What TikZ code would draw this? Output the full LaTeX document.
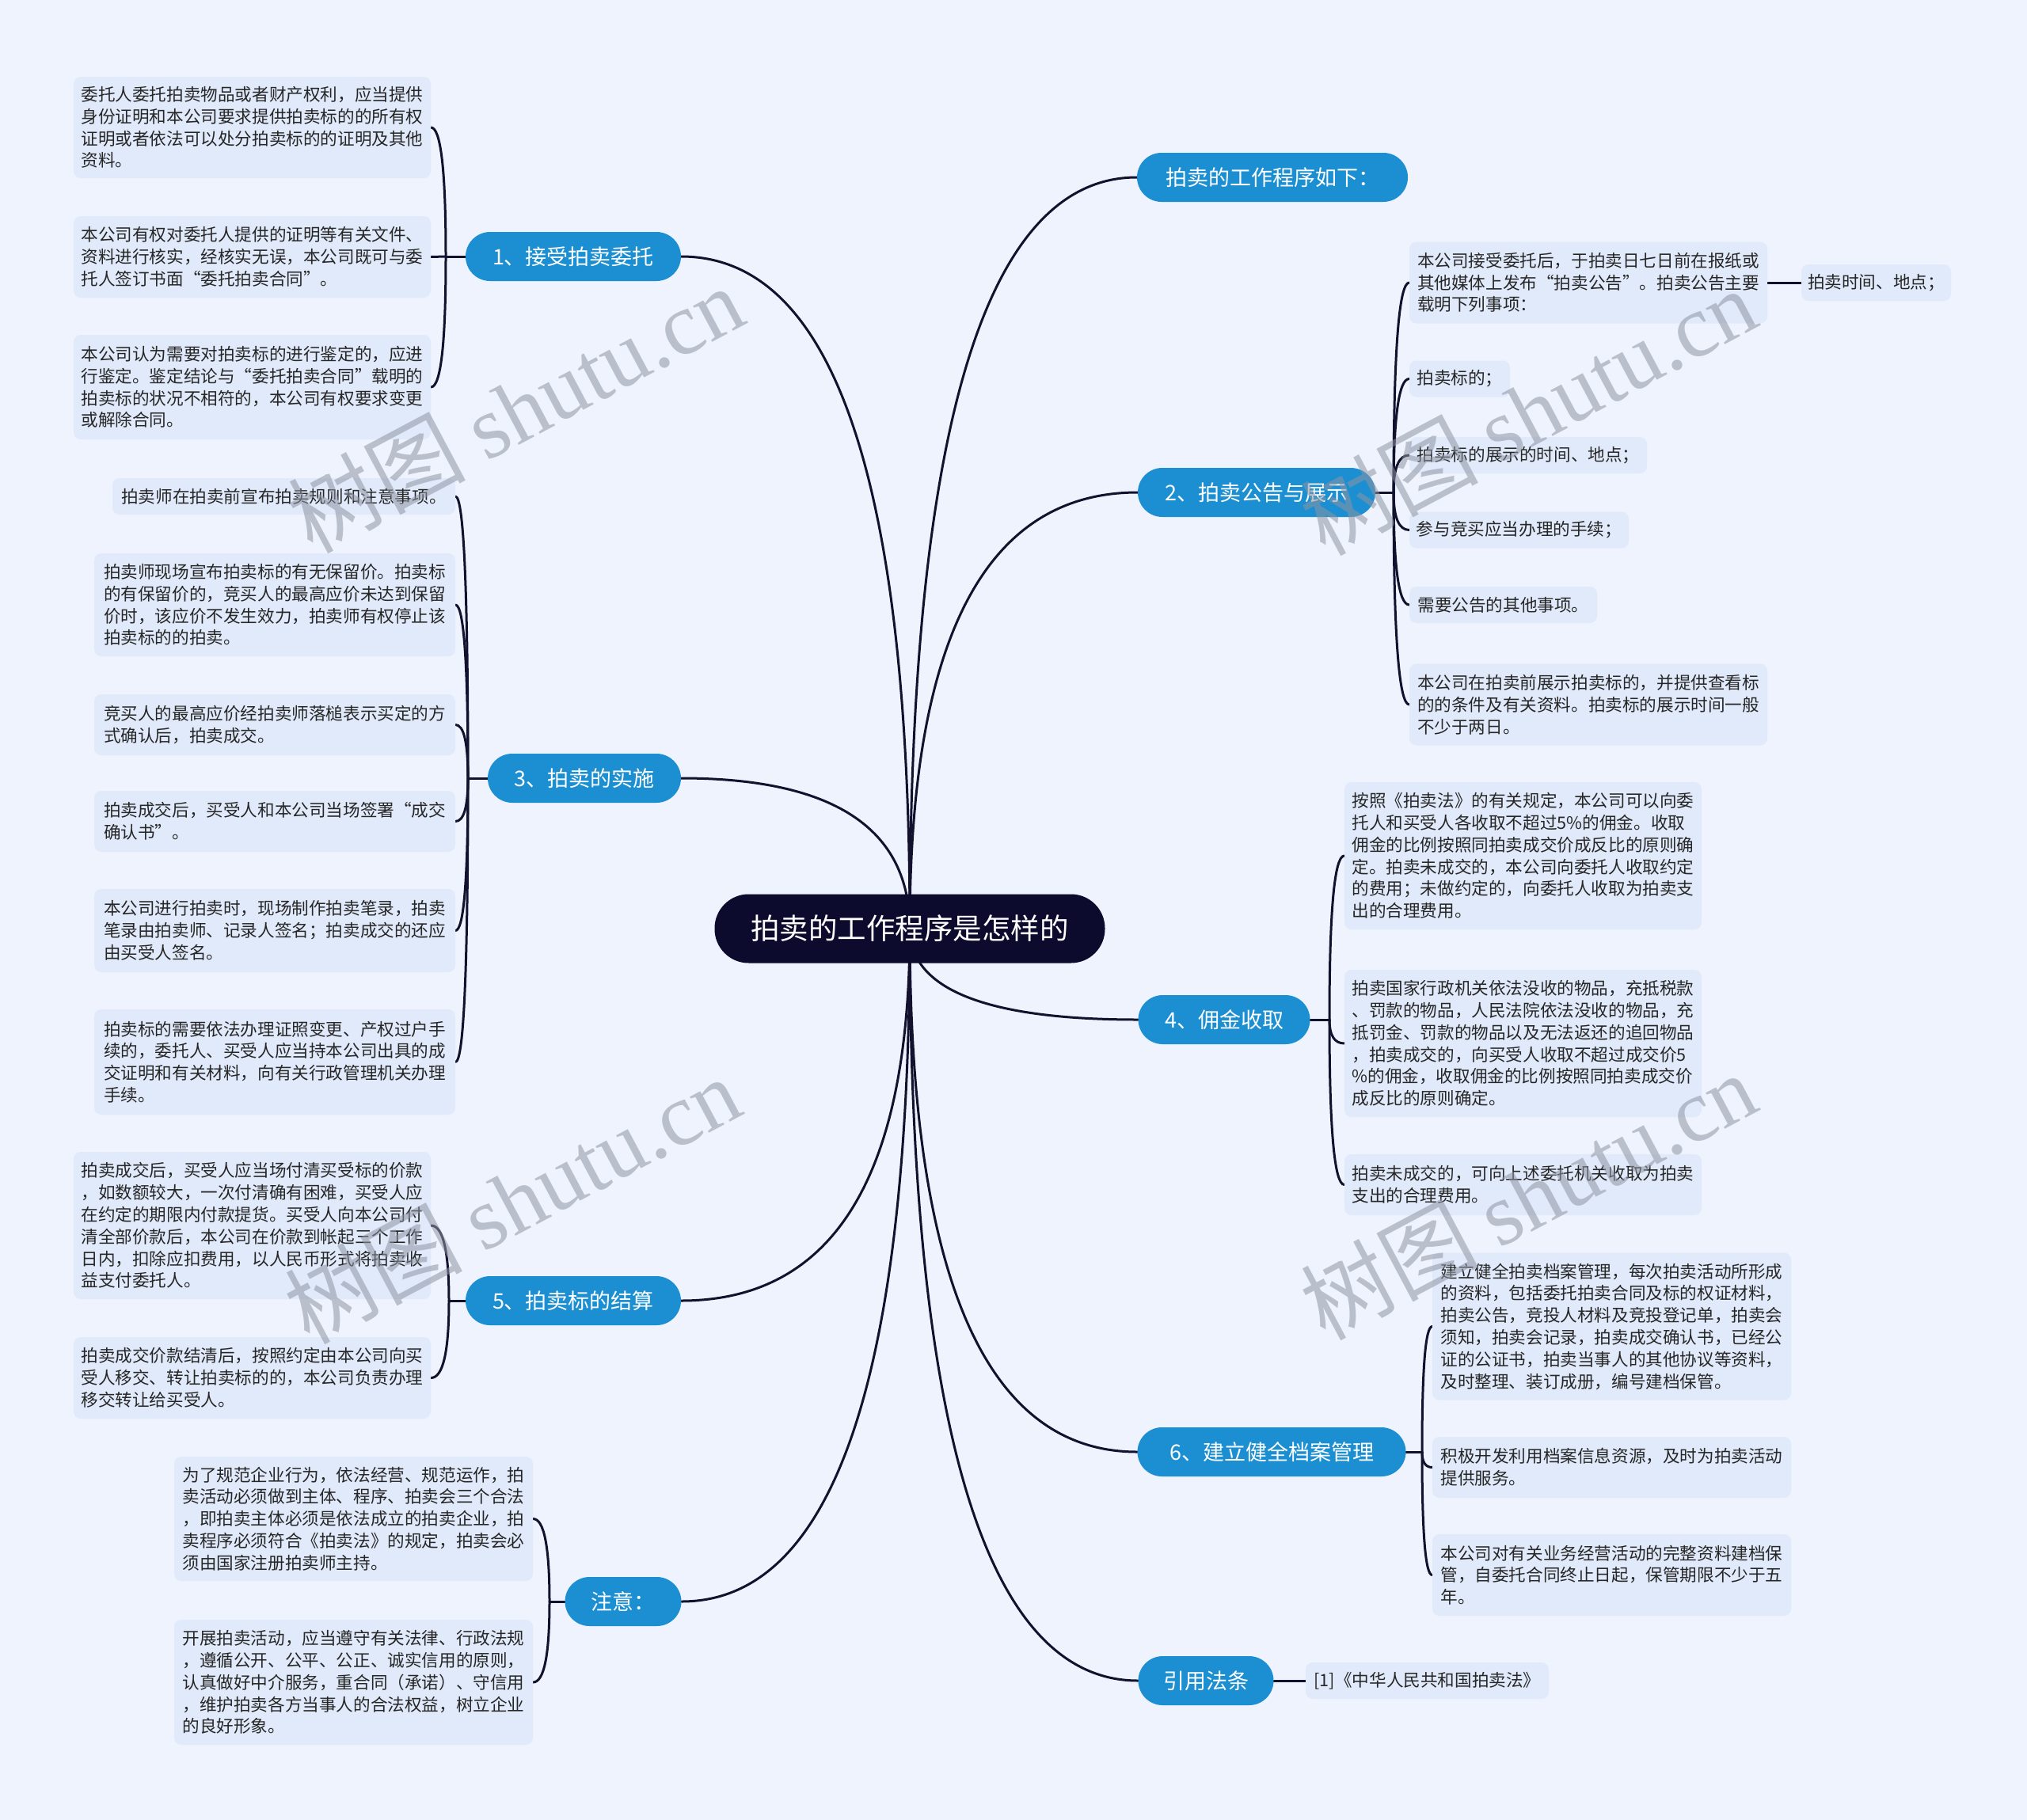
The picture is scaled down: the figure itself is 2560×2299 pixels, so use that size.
\documentclass[tikz,border=0pt]{standalone}
\usepackage{fontspec}
\setmainfont{Noto Sans CJK SC}
\newfontfamily\wmlatin{Liberation Serif}
\usetikzlibrary{calc}
\definecolor{bgc}{HTML}{EEF3FD}
\definecolor{leafc}{HTML}{E1EAFA}
\definecolor{bluec}{HTML}{1B8FD1}
\definecolor{darkc}{HTML}{0C0A2D}
\definecolor{linec}{HTML}{12122E}
\definecolor{leaftext}{HTML}{262626}
\definecolor{wmc}{HTML}{8F95A3}
\pgfdeclarelayer{back}
\pgfdeclarelayer{lines}
\pgfsetlayers{back,lines,main}
\tikzset{
  leaf/.style={fill=leafc, rounded corners=9pt, inner sep=0pt, align=left, text=leaftext,
    font=\fontsize{21.6}{27.8}\selectfont},
  branch/.style={fill=bluec, rounded corners=31pt, inner sep=0pt, minimum height=62pt,
    text=white, font=\fontsize{27}{31}\selectfont},
  centre/.style={fill=darkc, rounded corners=43pt, inner sep=0pt, minimum width=493pt,
    minimum height=87pt, text=white, font=\fontsize{36.5}{40}\selectfont},
  conn/.style={draw=linec, line width=3pt, line cap=round},
  wm/.style={text=wmc, opacity=0.55, font=\fontsize{112}{120}\selectfont, inner sep=0pt},
}
\newcommand\leafnode[6]{\node[leaf, minimum width=#4pt, minimum height=#5pt] (#1) at (#2,#3) {#6};}
\newcommand\qcurve[2]{\draw[conn] (#1) .. controls ($(#1)!0.6667!(#1 |- #2)$) and ($(#2)!0.6667!(#1 |- #2)$) .. (#2);}
\begin{document}
\begin{tikzpicture}[x=1pt,y=-1pt]
\begin{pgfonlayer}{back}
\fill[bgc] (0,0) rectangle (2560,2299);
\end{pgfonlayer}
\path[use as bounding box] (0,0) rectangle (2560,2299);

% central
\node[centre] (cen) at (1149,1173) {拍卖的工作程序是怎样的};

% branches
\node[branch, minimum width=342pt] (b0) at (1607,224) {拍卖的工作程序如下：};
\node[branch, minimum width=272pt] (n1) at (724,324) {1、接受拍卖委托};
\node[branch, minimum width=300pt] (n2) at (1587,622) {2、拍卖公告与展示};
\node[branch, minimum width=244pt] (n3) at (738,983) {3、拍卖的实施};
\node[branch, minimum width=217pt] (n4) at (1546,1288) {4、佣金收取};
\node[branch, minimum width=272pt] (n5) at (724,1643) {5、拍卖标的结算};
\node[branch, minimum width=339pt] (n6) at (1606,1834) {6、建立健全档案管理};
\node[branch, minimum width=147pt] (nN) at (787,2023) {注意：};
\node[branch, minimum width=171pt] (nR) at (1523,2123) {引用法条};

% branch 1 leaves
\leafnode{L1a}{318.5}{161}{451}{128}{委托人委托拍卖物品或者财产权利，应当提供\\身份证明和本公司要求提供拍卖标的的所有权\\证明或者依法可以处分拍卖标的的证明及其他\\资料。}
\leafnode{L1b}{318.5}{324.5}{451}{103}{本公司有权对委托人提供的证明等有关文件、\\资料进行核实，经核实无误，本公司既可与委\\托人签订书面“委托拍卖合同”。}
\leafnode{L1c}{318.5}{489}{451}{132}{本公司认为需要对拍卖标的进行鉴定的，应进\\行鉴定。鉴定结论与“委托拍卖合同”载明的\\拍卖标的状况不相符的，本公司有权要求变更\\或解除合同。}

% branch 3 leaves
\leafnode{L3a}{358.5}{627}{433}{46}{拍卖师在拍卖前宣布拍卖规则和注意事项。}
\leafnode{L3b}{347}{764}{456}{130}{拍卖师现场宣布拍卖标的有无保留价。拍卖标\\的有保留价的，竞买人的最高应价未达到保留\\价时，该应价不发生效力，拍卖师有权停止该\\拍卖标的的拍卖。}
\leafnode{L3c}{347}{915.5}{456}{77}{竞买人的最高应价经拍卖师落槌表示买定的方\\式确认后，拍卖成交。}
\leafnode{L3d}{347}{1037.5}{456}{77}{拍卖成交后，买受人和本公司当场签署“成交\\确认书”。}
\leafnode{L3e}{347}{1175.5}{456}{105}{本公司进行拍卖时，现场制作拍卖笔录，拍卖\\笔录由拍卖师、记录人签名；拍卖成交的还应\\由买受人签名。}
\leafnode{L3f}{347}{1341.5}{456}{133}{拍卖标的需要依法办理证照变更、产权过户手\\续的，委托人、买受人应当持本公司出具的成\\交证明和有关材料，向有关行政管理机关办理\\手续。}

% branch 5 leaves
\leafnode{L5a}{318.5}{1548}{451}{186}{拍卖成交后，买受人应当场付清买受标的价款\\，如数额较大，一次付清确有困难，买受人应\\在约定的期限内付款提货。买受人向本公司付\\清全部价款后，本公司在价款到帐起三个工作\\日内，扣除应扣费用，以人民币形式将拍卖收\\益支付委托人。}
\leafnode{L5b}{318.5}{1740.5}{451}{103}{拍卖成交价款结清后，按照约定由本公司向买\\受人移交、转让拍卖标的的，本公司负责办理\\移交转让给买受人。}

% note leaves
\leafnode{LNa}{446.5}{1918.5}{453}{157}{为了规范企业行为，依法经营、规范运作，拍\\卖活动必须做到主体、程序、拍卖会三个合法\\，即拍卖主体必须是依法成立的拍卖企业，拍\\卖程序必须符合《拍卖法》的规定，拍卖会必\\须由国家注册拍卖师主持。}
\leafnode{LNb}{446.5}{2125}{453}{158}{开展拍卖活动，应当遵守有关法律、行政法规\\，遵循公开、公平、公正、诚实信用的原则，\\认真做好中介服务，重合同（承诺）、守信用\\，维护拍卖各方当事人的合法权益，树立企业\\的良好形象。}

% branch 2 leaves
\leafnode{R2a}{2006}{357}{452}{103}{本公司接受委托后，于拍卖日七日前在报纸或\\其他媒体上发布“拍卖公告”。拍卖公告主要\\载明下列事项：}
\leafnode{R2a1}{2369.5}{357}{189}{46}{拍卖时间、地点；}
\leafnode{R2b}{1843.5}{478.5}{127}{46}{拍卖标的；}
\leafnode{R2c}{1930}{575}{300}{46}{拍卖标的展示的时间、地点；}
\leafnode{R2d}{1918.5}{669.5}{277}{46}{参与竞买应当办理的手续；}
\leafnode{R2e}{1898.5}{764}{237}{46}{需要公告的其他事项。}
\leafnode{R2f}{2006}{890}{452}{103}{本公司在拍卖前展示拍卖标的，并提供查看标\\的的条件及有关资料。拍卖标的展示时间一般\\不少于两日。}

% branch 4 leaves
\leafnode{R4a}{1923.5}{1081}{451}{186}{按照《拍卖法》的有关规定，本公司可以向委\\托人和买受人各收取不超过5\%的佣金。收取\\佣金的比例按照同拍卖成交价成反比的原则确\\定。拍卖未成交的，本公司向委托人收取约定\\的费用；未做约定的，向委托人收取为拍卖支\\出的合理费用。}
\leafnode{R4b}{1923.5}{1318}{451}{186}{拍卖国家行政机关依法没收的物品，充抵税款\\、罚款的物品，人民法院依法没收的物品，充\\抵罚金、罚款的物品以及无法返还的追回物品\\，拍卖成交的，向买受人收取不超过成交价5\\\%的佣金，收取佣金的比例按照同拍卖成交价\\成反比的原则确定。}
\leafnode{R4c}{1923.5}{1496.5}{451}{77}{拍卖未成交的，可向上述委托机关收取为拍卖\\支出的合理费用。}

% branch 6 leaves
\leafnode{R6a}{2035.5}{1675.5}{453}{186}{建立健全拍卖档案管理，每次拍卖活动所形成\\的资料，包括委托拍卖合同及标的权证材料，\\拍卖公告，竞投人材料及竞投登记单，拍卖会\\须知，拍卖会记录，拍卖成交确认书，已经公\\证的公证书，拍卖当事人的其他协议等资料，\\及时整理、装订成册，编号建档保管。}
\leafnode{R6b}{2035.5}{1853.5}{453}{77}{积极开发利用档案信息资源，及时为拍卖活动\\提供服务。}
\leafnode{R6c}{2035.5}{1989.5}{453}{103}{本公司对有关业务经营活动的完整资料建档保\\管，自委托合同终止日起，保管期限不少于五\\年。}

% law leaf
\leafnode{RR}{1802.5}{2123}{307}{46}{[1]《中华人民共和国拍卖法》}

% spine coordinates
\coordinate (s1) at (563,324);
\coordinate (s2) at (1760,622);
\coordinate (s3) at (591,983);
\coordinate (s4) at (1679,1288);
\coordinate (s5) at (567,1643);
\coordinate (s6) at (1796,1834);
\coordinate (sN) at (694,2023);

\begin{pgfonlayer}{lines}
% main curves
\qcurve{cen.center}{b0.west}
\qcurve{cen.center}{n1.east}
\qcurve{cen.center}{n2.west}
\qcurve{cen.center}{n3.east}
\qcurve{cen.center}{n4.west}
\qcurve{cen.center}{n5.east}
\qcurve{cen.center}{n6.west}
\qcurve{cen.center}{nN.east}
\qcurve{cen.center}{nR.west}
% branch 1
\draw[conn] (n1.west) -- (s1);
\qcurve{s1}{L1a.east}
\draw[conn] (s1) -- (L1b.east);
\qcurve{s1}{L1c.east}
% branch 2
\draw[conn] (n2.east) -- (s2);
\qcurve{s2}{R2a.west}
\qcurve{s2}{R2b.west}
\qcurve{s2}{R2c.west}
\qcurve{s2}{R2d.west}
\qcurve{s2}{R2e.west}
\qcurve{s2}{R2f.west}
\draw[conn] (R2a.east) -- (R2a1.west);
% branch 3
\draw[conn] (n3.west) -- (s3);
\qcurve{s3}{L3a.east}
\qcurve{s3}{L3b.east}
\qcurve{s3}{L3c.east}
\qcurve{s3}{L3d.east}
\qcurve{s3}{L3e.east}
\qcurve{s3}{L3f.east}
% branch 4
\draw[conn] (n4.east) -- (s4);
\qcurve{s4}{R4a.west}
\qcurve{s4}{R4b.west}
\qcurve{s4}{R4c.west}
% branch 5
\draw[conn] (n5.west) -- (s5);
\qcurve{s5}{L5a.east}
\qcurve{s5}{L5b.east}
% branch 6
\draw[conn] (n6.east) -- (s6);
\qcurve{s6}{R6a.west}
\qcurve{s6}{R6b.west}
\qcurve{s6}{R6c.west}
% note
\draw[conn] (nN.west) -- (sN);
\qcurve{sN}{LNa.east}
\qcurve{sN}{LNb.east}
% law
\draw[conn] (nR.east) -- (RR.west);
\end{pgfonlayer}

% watermarks
\node[wm, rotate=28] (wm1) at (651,516) {树图 {\wmlatin shutu.cn}};
\node[wm, rotate=28] (wm2) at (1930,519) {树图 {\wmlatin shutu.cn}};
\node[wm, rotate=28] (wm3) at (647,1515) {树图 {\wmlatin shutu.cn}};
\node[wm, rotate=28] (wm4) at (1930,1510) {树图 {\wmlatin shutu.cn}};
\end{tikzpicture}
\end{document}
